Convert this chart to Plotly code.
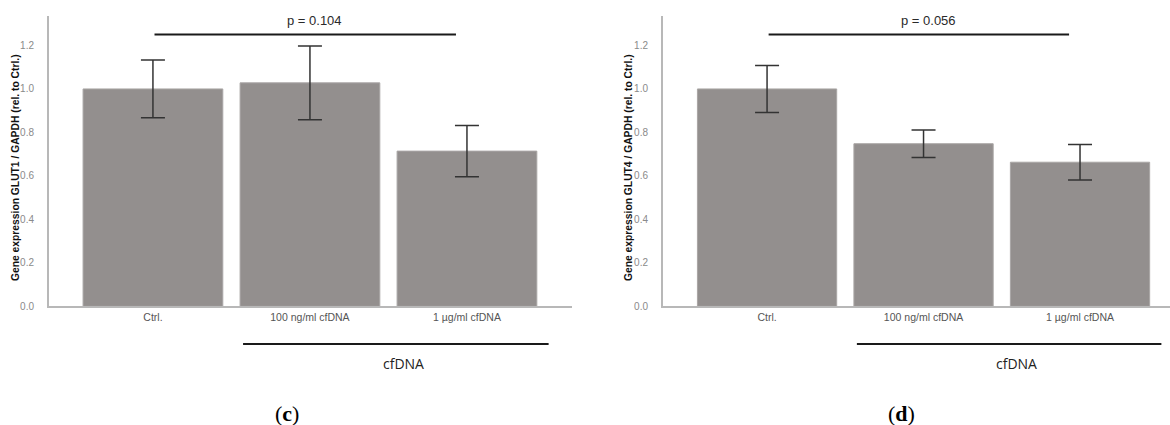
import plotly.graph_objects as go

categories = ["Ctrl.", "100 ng/ml cfDNA", "1 µg/ml cfDNA"]
glut1_mean = [1.0, 1.028, 0.714]
glut1_err = [0.133, 0.170, 0.118]
glut4_mean = [1.0, 0.748, 0.663]
glut4_err = [0.108, 0.063, 0.082]
p_labels = ["p = 0.104", "p = 0.056"]
panel_labels = ["c", "d"]
y_titles = ["Gene expression GLUT1 / GAPDH (rel. to Ctrl.)",
            "Gene expression GLUT4 / GAPDH (rel. to Ctrl.)"]
y_ticks = [0.0, 0.2, 0.4, 0.6, 0.8, 1.0, 1.2]

W, H = 1170, 425
BAR = "#938f8e"
AXC = "#b8b8b8"

fig = go.Figure()

panels = [
    dict(mean=glut1_mean, err=glut1_err, xa="x", ya="y", xd=[49 / W, 572 / W],
         xr=[-0.662, 2.669], title_x=15, lab_x=287),
    dict(mean=glut4_mean, err=glut4_err, xa="x2", ya="y2", xd=[663 / W, 1.0],
         xr=[-0.665, 2.575], title_x=628, lab_x=901),
]

ydom = [(H - 310) / H, (H - 16) / H]
yr = [0, (310 - 16) / 220]

for i, p in enumerate(panels):
    fig.add_trace(go.Bar(
        x=list(range(len(categories))), y=p["mean"], xaxis=p["xa"], yaxis=p["ya"],
        marker=dict(color=BAR, line=dict(color="#a9a6a5", width=1)),
        error_y=dict(type="data", array=p["err"], visible=True, color="#333333",
                     thickness=1.5, width=12),
        showlegend=False, hoverinfo="skip",
    ))
    sfx = "" if i == 0 else "2"
    fig.layout["xaxis" + sfx] = dict(
        domain=p["xd"], range=p["xr"], anchor="y" + sfx,
        tickmode="array", tickvals=list(range(len(categories))), ticktext=categories,
        showline=True, linecolor=AXC, linewidth=2, showgrid=False, zeroline=False,
        ticks="", tickfont=dict(family="Liberation Sans, Arial", size=10.5, color="#555555"),
        fixedrange=True,
    )
    fig.layout["yaxis" + sfx] = dict(
        domain=ydom, range=yr, anchor="x" + sfx,
        tickmode="array", tickvals=y_ticks, tickformat=".1f",
        showline=True, linecolor=AXC, linewidth=2, showgrid=False, zeroline=False,
        ticks="", ticklabelstandoff=11,
        tickfont=dict(family="Liberation Sans, Arial", size=10, color="#8a8a8a"),
        fixedrange=True,
    )
    # p-value bracket
    fig.add_shape(type="line", xref=p["xa"], yref=p["ya"], x0=0.01, x1=1.93,
                  y0=1.25, y1=1.25, line=dict(color="#1a1a1a", width=2))
    fig.add_annotation(xref=p["xa"], yref="paper", x=1.03, y=(H - 21) / H,
                       xanchor="center", yanchor="middle",
                       text=p_labels[i], showarrow=False,
                       font=dict(family="Liberation Sans, Arial", size=13, color="#2a2a2a"))
    # cfDNA bracket below axis
    fig.add_shape(type="line", xref=p["xa"], yref="paper", x0=0.574, x1=2.52,
                  y0=(H - 348) / H, y1=(H - 348) / H, line=dict(color="#1a1a1a", width=2))
    fig.add_annotation(xref=p["xa"], yref="paper", x=1.595, y=(H - 368) / H,
                       xanchor="center", yanchor="middle",
                       text="cfDNA", showarrow=False,
                       font=dict(family="Open Sans, Liberation Sans", size=14, color="#222222"))
    # y axis title
    fig.add_annotation(xref="paper", yref="paper", x=p["title_x"] / W, y=(H - 170) / H,
                       xanchor="center", yanchor="middle",
                       text="<b>" + y_titles[i] + "</b>", textangle=-90, showarrow=False,
                       font=dict(family="Liberation Sans, Arial", size=10.3, color="#111111"))
    # panel label
    fig.add_annotation(xref="paper", yref="paper", x=p["lab_x"] / W, y=(H - 418) / H,
                       xanchor="center", yanchor="middle",
                       text="(<b>" + panel_labels[i] + "</b>)", showarrow=False,
                       font=dict(family="Liberation Serif, DejaVu Serif", size=22, color="#000000"))

fig.update_layout(
    width=W, height=H, margin=dict(l=0, r=0, t=0, b=0),
    paper_bgcolor="white", plot_bgcolor="white",
    bargap=0.11,
)

fig.write_html("out.html", config={"displayModeBar": False},
               post_script="document.body.style.margin='0';document.body.style.padding='0';")
